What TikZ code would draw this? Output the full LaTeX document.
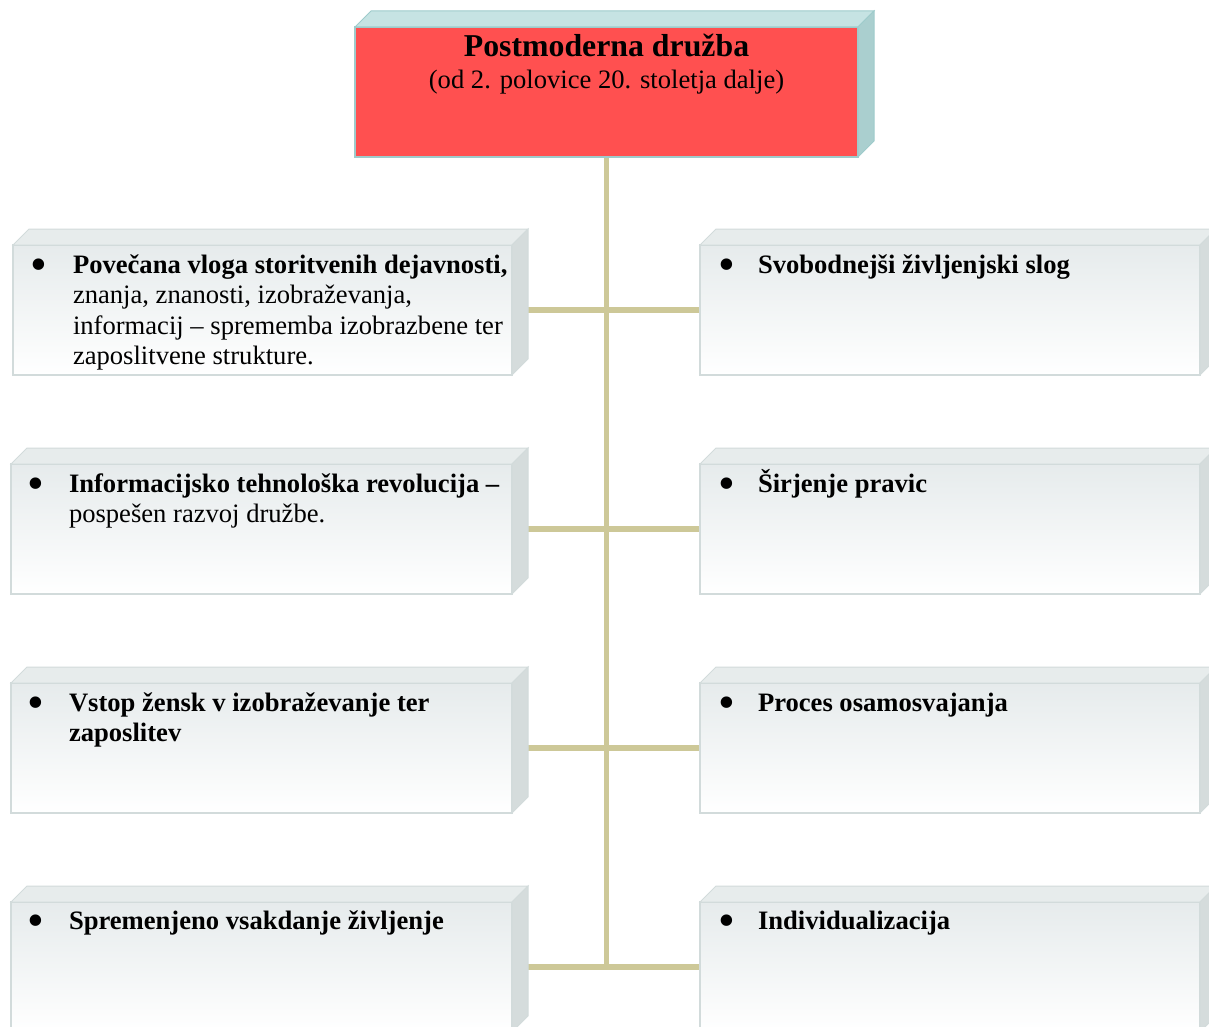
\documentclass[tikz,border=0pt]{standalone}
\usepackage{graphicx}
\usepackage{fontspec}
\setmainfont{Liberation Serif}
\usetikzlibrary{backgrounds,calc}
\definecolor{redface}{HTML}{FF5050}
\definecolor{redtop}{HTML}{C6E3E3}
\definecolor{redside}{HTML}{AACFCF}
\definecolor{redline}{HTML}{9ECBCB}
\definecolor{graytop}{HTML}{E7ECEC}
\definecolor{grayside}{HTML}{D5DCDC}
\definecolor{grayline}{HTML}{D2DBDB}
\definecolor{grayfront}{HTML}{E6EBEC}
\definecolor{conncol}{HTML}{CDC898}
\newcommand\drawfaces[4]{%
  \filldraw[fill=#2, draw=#4, line width=1pt] (#1.north west) -- ++(16,-16) -- ($(#1.north east)+(16,-16)$) -- (#1.north east) -- cycle;
  \filldraw[fill=#3, draw=#4, line width=1pt] (#1.north east) -- ++(16,-16) -- ($(#1.south east)+(16,-16)$) -- (#1.south east) -- cycle;
}
\newcommand\bul[1]{\noindent\llap{\raisebox{-7pt}{\scalebox{1.8}{\textbullet}}\hspace{#1}}}
\tikzset{
  graybox/.style={rectangle, draw=grayline, line width=1.2pt, top color=grayfront, bottom color=white,
    minimum width=#1, minimum height=130pt, anchor=north west, inner sep=0pt, outer sep=0pt},
  redbox/.style={rectangle, draw=redline, line width=1.2pt, fill=redface,
    minimum width=503pt, minimum height=130pt, anchor=north west, inner sep=0pt, outer sep=0pt},
  txt/.style={inner sep=0pt, outer sep=0pt, anchor=base west, font=\fontsize{26.6pt}{30.6pt}\selectfont},
  conn/.style={draw=conncol, line width=5.5pt},
}
\begin{document}
\begin{tikzpicture}[x=1pt,y=-1pt]
\useasboundingbox (0,0) rectangle (1209,1027);
% front faces
\node[redbox] (top) at (355,27) {};
\node[graybox=499pt] (L1) at (13,245) {};
\node[graybox=501pt] (L2) at (11,464) {};
\node[graybox=501pt] (L3) at (11,683) {};
\node[graybox=501pt] (L4) at (11,902) {};
\node[graybox=500pt] (R1) at (700,245) {};
\node[graybox=500pt] (R2) at (700,464) {};
\node[graybox=500pt] (R3) at (700,683) {};
\node[graybox=500pt] (R4) at (700,902) {};
\coordinate (J4) at (606.5,967);
% 3D faces
\drawfaces{top}{redtop}{redside}{redline}
\foreach \n in {L1,L2,L3,L4,R1,R2,R3,R4}{\drawfaces{\n}{graytop}{grayside}{grayline}}
% connectors
\begin{pgfonlayer}{background}
\draw[conn] (top.south) -- (J4);
\draw[conn] (L1.east) -- (R1.west);
\draw[conn] (L2.east) -- (R2.west);
\draw[conn] (L3.east) -- (R3.west);
\draw[conn] (L4.east) -- (R4.west);
\end{pgfonlayer}
% texts
\node[inner sep=0pt, anchor=base, font=\fontsize{31.8pt}{36pt}\selectfont\bfseries] (title) at (606.5,57) {Postmoderna družba};
\node[inner sep=0pt, anchor=base, font=\fontsize{26.6pt}{30.6pt}\selectfont] (subtitle) at (606.5,89) {(od 2. polovice 20. stoletja dalje)};
\node[txt] (tL1) at (73,273) {\parbox[t]{460pt}{\raggedright\bul{26pt}\textbf{Povečana vloga storitvenih dejavnosti,}\\ znanja, znanosti, izobraževanja,\\ informacij – sprememba izobrazbene ter\\ zaposlitvene strukture.}};
\node[txt] (tL2) at (69,492) {\parbox[t]{460pt}{\raggedright\bul{24.5pt}\textbf{Informacijsko tehnološka revolucija –}\\ pospešen razvoj družbe.}};
\node[txt] (tL3) at (69,711) {\parbox[t]{460pt}{\raggedright\bul{24.5pt}\textbf{Vstop žensk v izobraževanje ter}\\ \textbf{zaposlitev}}};
\node[txt] (tL4) at (69,929) {\parbox[t]{460pt}{\raggedright\bul{24.5pt}\textbf{Spremenjeno vsakdanje življenje}}};
\node[txt] (tR1) at (758,273) {\parbox[t]{430pt}{\raggedright\bul{22.5pt}\textbf{Svobodnejši življenjski slog}}};
\node[txt] (tR2) at (758,492) {\parbox[t]{430pt}{\raggedright\bul{22.5pt}\textbf{Širjenje pravic}}};
\node[txt] (tR3) at (758,711) {\parbox[t]{430pt}{\raggedright\bul{22.5pt}\textbf{Proces osamosvajanja}}};
\node[txt] (tR4) at (758,929) {\parbox[t]{430pt}{\raggedright\bul{22.5pt}\textbf{Individualizacija}}};
\end{tikzpicture}
\end{document}
